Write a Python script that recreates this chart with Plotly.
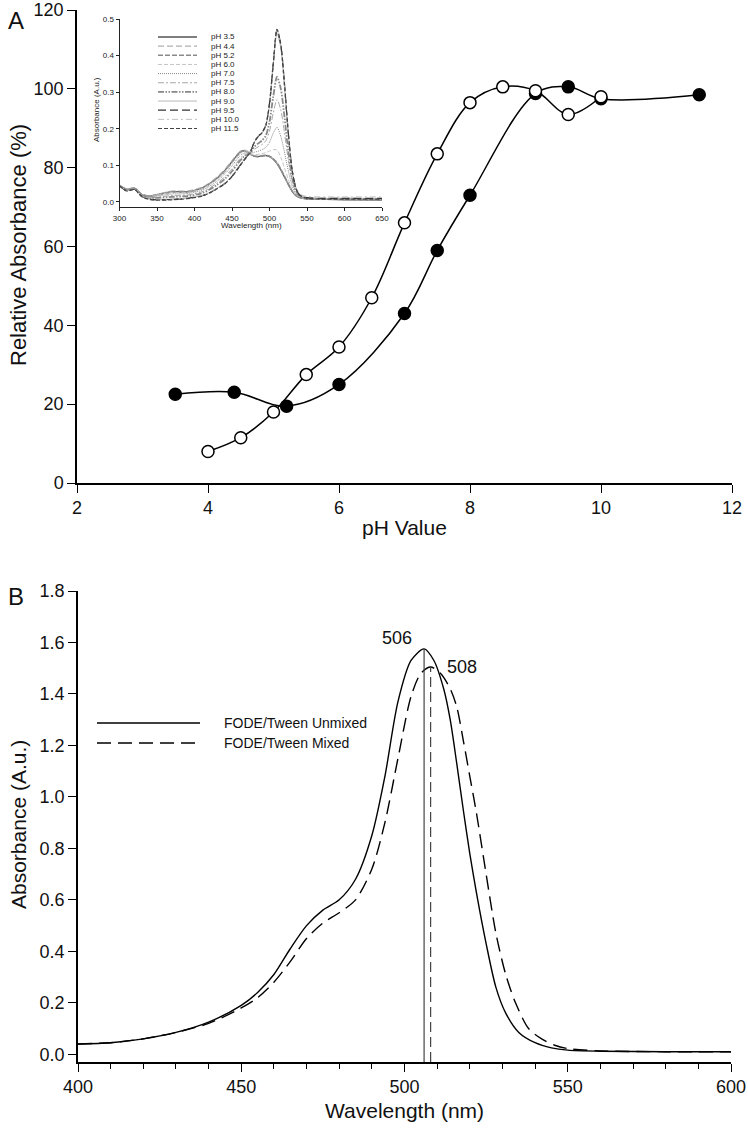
import plotly.graph_objects as go

W, H = 748, 1140
FONT = "Liberation Sans, Arial, sans-serif"

# ---------------- Panel A data ----------------
ph_open = [4.0, 4.5, 5.0, 5.5, 6.0, 6.5, 7.0, 7.5, 8.0, 8.5, 9.0, 9.5, 10.0]
rel_open = [8.0, 11.5, 18.0, 27.5, 34.5, 47.0, 66.0, 83.5, 96.5, 100.5, 99.5, 93.5, 98.0]
ph_filled = [3.5, 4.4, 5.2, 6.0, 7.0, 7.5, 8.0, 9.0, 9.5, 10.0, 11.5]
rel_filled = [22.5, 23.0, 19.5, 25.0, 43.0, 59.0, 73.0, 98.8, 100.5, 97.5, 98.5]

# ---------------- Inset data (spectra vs pH) ----------------
inset_wl = [300, 310, 320, 330, 340, 350, 370, 390, 410, 420, 430, 440, 450, 460, 465, 470,
            475, 480, 485, 490, 495, 500, 505, 510, 515, 520, 525, 530, 535, 540, 550, 575, 600, 650]
abs_ph35 = [.045, .035, .038, .020, .016, .020, .028, .028, .038, .050, .065, .085, .110, .135, .140, .137,
            .130, .125, .124, .126, .127, .124, .117, .105, .088, .068, .048, .030, .018, .012, .008, .007, .006, .005]
abs_ph44 = [.046, .036, .039, .021, .017, .021, .030, .030, .040, .052, .068, .088, .113, .137, .142, .139,
            .131, .126, .125, .127, .128, .125, .118, .106, .089, .069, .049, .031, .019, .013, .009, .008, .008, .008]
abs_ph52 = [.044, .034, .037, .020, .016, .019, .027, .027, .037, .049, .064, .083, .108, .133, .139, .136,
            .130, .125, .124, .126, .127, .125, .118, .107, .090, .070, .050, .031, .019, .013, .009, .008, .007, .007]
abs_ph60 = [.045, .035, .038, .020, .015, .019, .026, .026, .036, .048, .062, .082, .106, .131, .137, .136,
            .131, .129, .130, .132, .135, .139, .143, .142, .122, .093, .062, .036, .020, .013, .008, .007, .006, .006]
abs_ph70 = [.045, .034, .037, .019, .014, .016, .022, .023, .032, .043, .057, .076, .099, .125, .132, .134,
            .133, .136, .139, .143, .149, .163, .188, .204, .180, .136, .086, .046, .024, .014, .009, .008, .007, .006]
abs_ph75 = [.045, .033, .037, .018, .012, .013, .018, .019, .028, .038, .052, .068, .091, .117, .127, .131,
            .135, .144, .151, .157, .167, .194, .243, .280, .252, .189, .116, .059, .029, .016, .010, .008, .008, .007]
abs_ph80 = [.045, .032, .036, .017, .011, .011, .014, .016, .024, .034, .047, .062, .084, .111, .122, .129,
            .137, .151, .160, .168, .181, .219, .288, .342, .310, .232, .140, .069, .032, .017, .011, .009, .009, .008]
abs_ph90 = [.045, .031, .035, .015, .009, .007, .008, .011, .018, .026, .038, .051, .071, .099, .113, .126,
            .140, .164, .178, .188, .207, .265, .372, .460, .421, .314, .187, .089, .040, .020, .012, .010, .010, .010]
abs_ph95 = [.045, .030, .035, .015, .008, .006, .007, .010, .017, .025, .037, .050, .070, .098, .112, .125,
            .140, .165, .180, .190, .210, .270, .380, .470, .430, .320, .190, .090, .040, .020, .012, .010, .010, .010]
abs_ph100 = [.046, .031, .036, .016, .009, .007, .008, .011, .018, .026, .038, .051, .071, .099, .113, .126,
             .141, .166, .181, .191, .211, .272, .382, .468, .428, .318, .189, .090, .041, .022, .015, .014, .014, .014]
abs_ph115 = [.044, .030, .034, .014, .007, .005, .006, .009, .016, .024, .036, .049, .069, .097, .111, .124,
             .139, .164, .179, .189, .209, .268, .378, .472, .432, .322, .191, .090, .039, .019, .010, .008, .008, .008]
inset_labels = ["pH 3.5", "pH 4.4", "pH 5.2", "pH 6.0", "pH 7.0", "pH 7.5",
                "pH 8.0", "pH 9.0", "pH 9.5", "pH 10.0", "pH 11.5"]
inset_series = [abs_ph35, abs_ph44, abs_ph52, abs_ph60, abs_ph70, abs_ph75,
                abs_ph80, abs_ph90, abs_ph95, abs_ph100, abs_ph115]

# ---------------- Panel B data ----------------
wl_unmixed = [400, 410, 420, 430, 440, 450, 455, 460, 465, 470, 475, 480, 485, 490, 494, 498, 502, 506,
              509, 512, 514, 516, 518, 520, 522, 525, 528, 531, 535, 540, 545, 550, 560, 580, 600]
abs_unmixed = [0.040, 0.045, 0.060, 0.085, 0.125, 0.190, 0.240, 0.310, 0.410, 0.500, 0.560, 0.600, 0.680,
               0.850, 1.080, 1.370, 1.530, 1.575, 1.530, 1.420, 1.300, 1.130, 0.950, 0.780, 0.630, 0.430,
               0.260, 0.160, 0.085, 0.045, 0.025, 0.016, 0.012, 0.010, 0.010]
wl_mixed = [400, 410, 420, 430, 440, 450, 455, 460, 465, 470, 475, 480, 485, 490, 494, 498, 502, 505, 508,
            511, 514, 516, 518, 520, 522, 525, 528, 531, 534, 538, 542, 546, 550, 560, 580, 600]
abs_mixed = [0.040, 0.045, 0.060, 0.085, 0.120, 0.180, 0.220, 0.280, 0.360, 0.450, 0.510, 0.550, 0.600,
             0.720, 0.900, 1.150, 1.390, 1.480, 1.505, 1.480, 1.420, 1.350, 1.220, 1.080, 0.940, 0.700,
             0.470, 0.310, 0.200, 0.100, 0.060, 0.035, 0.022, 0.013, 0.010, 0.010]
peak_wl = [506, 508]
peak_abs = [1.575, 1.505]
peak_text = ["506", "508"]
legend_b = ["FODE/Tween Unmixed", "FODE/Tween Mixed"]

# ---------------- helpers (window pixels -> paper) ----------------
def px(x):
    return x / W

def py(y):
    return 1 - y / H

fig = go.Figure()

# Panel A curves
fig.add_trace(go.Scatter(x=ph_filled, y=rel_filled, mode="lines+markers",
                         line=dict(color="black", width=1.5, shape="spline", smoothing=1.0),
                         marker=dict(size=12, color="black", line=dict(color="black", width=1.5)),
                         xaxis="x", yaxis="y", showlegend=False))
fig.add_trace(go.Scatter(x=ph_open, y=rel_open, mode="lines+markers",
                         line=dict(color="black", width=1.5, shape="spline", smoothing=1.0),
                         marker=dict(size=12, color="white", line=dict(color="black", width=1.5)),
                         xaxis="x", yaxis="y", showlegend=False))

# Inset styles
inset_styles = [
    ("#555555", "solid", 1.3),
    ("#b0b0b0", "6px,3px", 1.2),
    ("#8a8a8a", "5px,2px", 1.6),
    ("#c4c4c4", "4px,2px", 1.0),
    ("#888888", "1px,1px", 1.0),
    ("#a8a8a8", "6px,2px,2px,2px", 1.0),
    ("#888888", "6px,1.5px,1.5px,1.5px,1.5px,1.5px", 1.8),
    ("#b8b8b8", "solid", 1.0),
    ("#333333", "8px,4px", 1.2),
    ("#c0c0c0", "6px,3px,2px,3px", 1.0),
    ("#444444", "4px,2px", 1.2),
]
for lab, ys, (col, dash, lw) in zip(inset_labels, inset_series, inset_styles):
    fig.add_trace(go.Scatter(x=inset_wl, y=ys, mode="lines", name=lab,
                             line=dict(color=col, dash=dash, width=lw, shape="spline", smoothing=0.8),
                             xaxis="x2", yaxis="y2", showlegend=False))

# Panel B curves
fig.add_trace(go.Scatter(x=wl_unmixed, y=abs_unmixed, mode="lines", name=legend_b[0],
                         line=dict(color="black", width=1.4, shape="spline", smoothing=0.8),
                         xaxis="x3", yaxis="y3", showlegend=False))
fig.add_trace(go.Scatter(x=wl_mixed, y=abs_mixed, mode="lines", name=legend_b[1],
                         line=dict(color="black", width=1.4, dash="14px,7px", shape="spline", smoothing=0.8),
                         xaxis="x3", yaxis="y3", showlegend=False))
B_YMIN = -0.03
fig.add_trace(go.Scatter(x=[peak_wl[0], peak_wl[0]], y=[B_YMIN, peak_abs[0]], mode="lines",
                         line=dict(color="#444444", width=1.2), xaxis="x3", yaxis="y3", showlegend=False))
fig.add_trace(go.Scatter(x=[peak_wl[1], peak_wl[1]], y=[B_YMIN, peak_abs[1]], mode="lines",
                         line=dict(color="#444444", width=1.2, dash="10px,5px"),
                         xaxis="x3", yaxis="y3", showlegend=False))

axis_common = dict(showline=True, linecolor="black", linewidth=1.5, ticks="outside", ticklen=8,
                   tickwidth=1.2, tickcolor="black", showgrid=False, zeroline=False, automargin=False,
                   tickfont=dict(family=FONT, size=18, color="#111"))
inset_axis = dict(showline=True, linecolor="#222", linewidth=1, ticks="outside", ticklen=3,
                  tickwidth=0.8, tickcolor="#222", showgrid=False, zeroline=False, automargin=False,
                  tickfont=dict(family=FONT, size=8, color="#222"))

fig.update_layout(
    width=W, height=H, margin=dict(l=0, r=0, t=0, b=0, autoexpand=False),
    paper_bgcolor="white", plot_bgcolor="rgba(0,0,0,0)",
    xaxis=dict(domain=[px(77), px(732)], range=[2, 12], tickvals=[2, 4, 6, 8, 10, 12],
               anchor="y", **axis_common),
    yaxis=dict(domain=[py(483), py(10)], range=[0, 120], tickvals=[0, 20, 40, 60, 80, 100, 120],
               anchor="x", **axis_common),
    xaxis2=dict(domain=[px(119.5), px(382)], range=[300, 650],
                tickvals=[300, 350, 400, 450, 500, 550, 600, 650], anchor="y2", **inset_axis),
    yaxis2=dict(domain=[py(207), py(19)], range=[-0.0137, 0.5],
                tickvals=[0, 0.1, 0.2, 0.3, 0.4, 0.5], tickformat=".1f", anchor="x2", **inset_axis),
    xaxis3=dict(domain=[px(78), px(731)], range=[400, 600],
                tickvals=[400, 450, 500, 550, 600], anchor="y3",
                minor=dict(dtick=10, ticklen=5, ticks="outside", tickcolor="black", tickwidth=1),
                **axis_common),
    yaxis3=dict(domain=[py(1062), py(591)], range=[B_YMIN, 1.8],
                tickvals=[0, 0.2, 0.4, 0.6, 0.8, 1.0, 1.2, 1.4, 1.6, 1.8], tickformat=".1f",
                anchor="x3", **axis_common),
)

ann = []
def text(x, y, s, size, angle=0, xanchor="center", color="#111"):
    ann.append(dict(x=px(x), y=py(y), xref="paper", yref="paper", text=s, showarrow=False,
                    textangle=angle, xanchor=xanchor, yanchor="middle",
                    font=dict(family=FONT, size=size, color=color)))

text(16, 20, "A", 24)
text(16, 596, "B", 24)
text(18, 245, "Relative Absorbance (%)", 22, angle=-90)
text(404, 527, "pH Value", 21)
text(18, 825, "Absorbance (A.u.)", 21, angle=-90)
text(404, 1110, "Wavelength (nm)", 21)
text(97, 110, "Absorbance (A.u.)", 8, angle=-90, color="#222")
text(251, 225, "Wavelength (nm)", 8, color="#222")

# peak labels
ann.append(dict(x=peak_wl[0], y=peak_abs[0], xref="x3", yref="y3", text=peak_text[0], showarrow=False,
                xanchor="right", yanchor="middle", xshift=-10, yshift=11,
                font=dict(family=FONT, size=18, color="#111")))
ann.append(dict(x=peak_wl[1], y=peak_abs[1], xref="x3", yref="y3", text=peak_text[1], showarrow=False,
                xanchor="left", yanchor="middle", xshift=14, yshift=0,
                font=dict(family=FONT, size=18, color="#111")))

shapes = []
# inset legend (manual)
for i, (lab, (col, dash, lw)) in enumerate(zip(inset_labels, inset_styles)):
    yy = 37 + i * 9.15
    shapes.append(dict(type="line", xref="paper", yref="paper", x0=px(158), x1=px(197),
                       y0=py(yy), y1=py(yy), line=dict(color=col, dash=dash, width=lw)))
    text(209, yy, lab, 8, xanchor="left", color="#222")

# panel B legend (manual)
for i, (lab, dash) in enumerate(zip(legend_b, ["solid", "14px,7px"])):
    yy = 723 + i * 20
    shapes.append(dict(type="line", xref="paper", yref="paper", x0=px(97), x1=px(200),
                       y0=py(yy), y1=py(yy), line=dict(color="black", dash=dash, width=1.4)))
    text(222, yy, lab, 14, xanchor="left")

fig.update_layout(annotations=ann, shapes=shapes)
fig.write_html("out.html", config={"displayModeBar": False},
               post_script="document.body.style.margin='0';document.body.style.padding='0';"
                           "document.body.style.overflow='hidden';")
